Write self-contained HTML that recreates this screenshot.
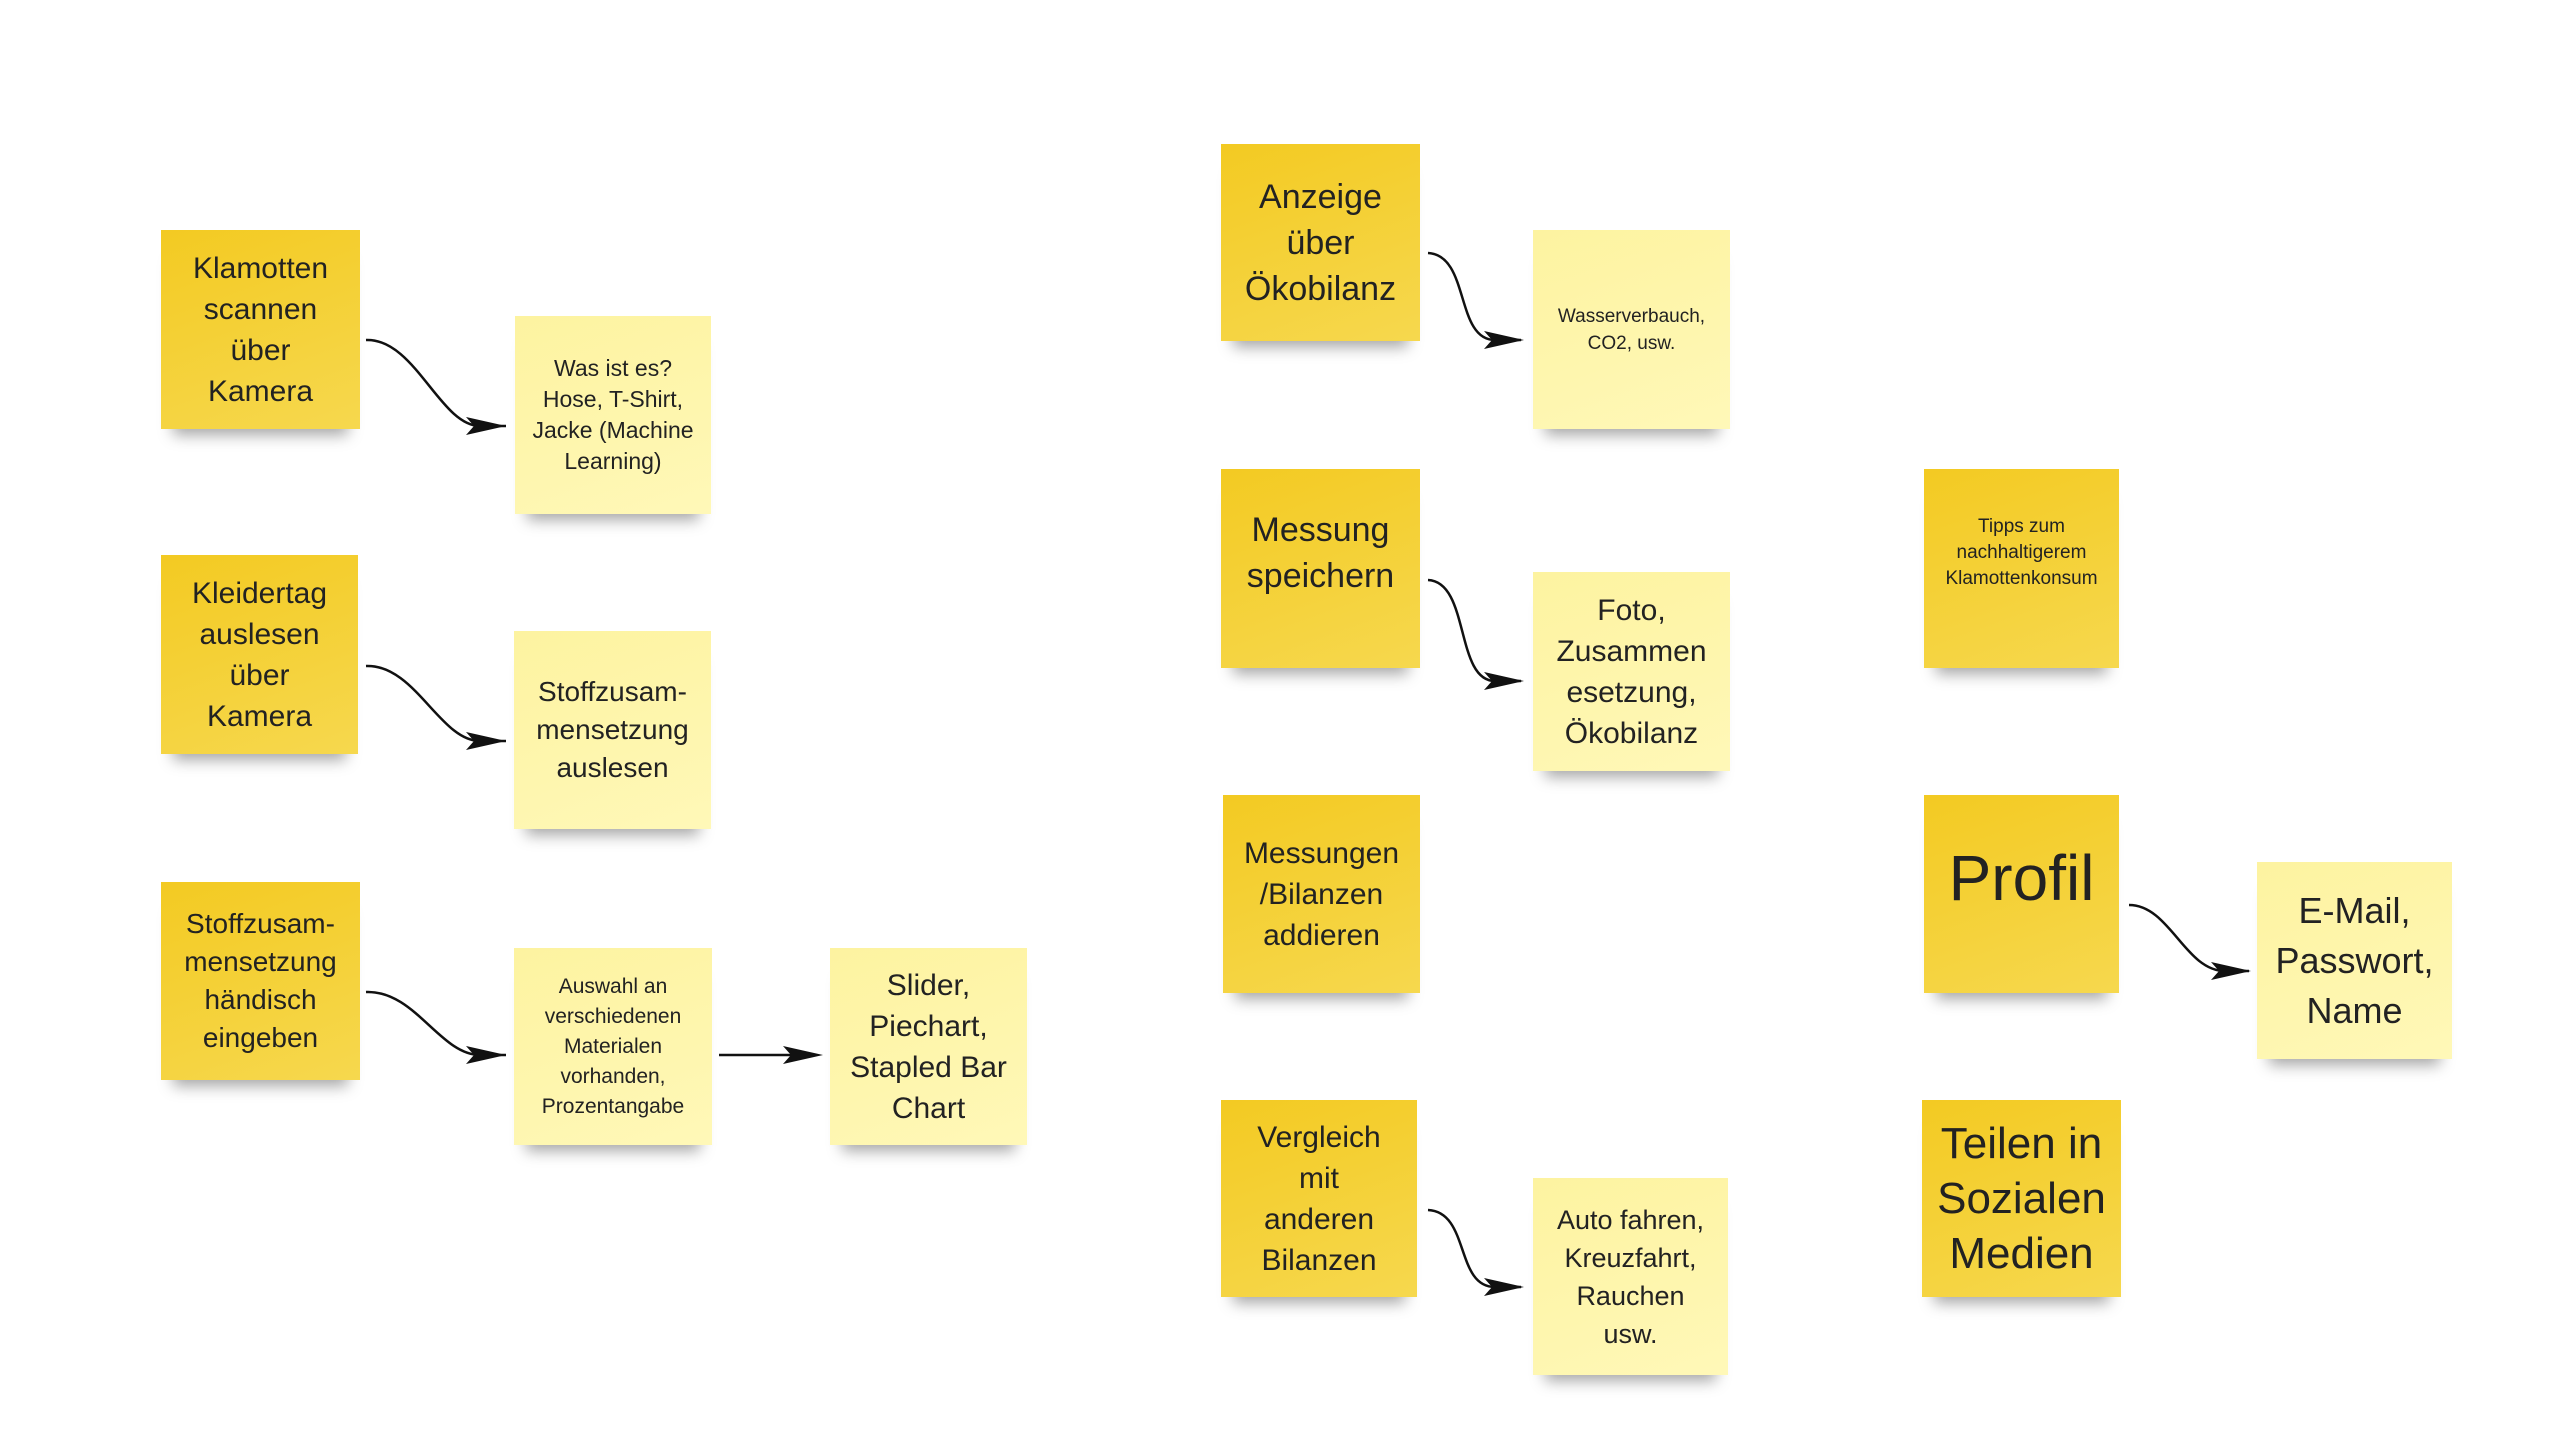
<!DOCTYPE html>
<html><head><meta charset="utf-8"><style>
body{margin:0;width:2560px;height:1440px;background:#fff;position:relative;overflow:hidden;font-family:"Liberation Sans",sans-serif;color:#222}
.n{position:absolute;display:flex;align-items:center;justify-content:center;text-align:center;box-sizing:border-box;padding:8px;box-shadow:0 18px 14px -12px rgba(0,0,0,0.35)}
.d{background:linear-gradient(160deg,#f3ca22,#f6d84e)}
.l{background:linear-gradient(160deg,#fdf3a0,#fff8b8)}
svg{position:absolute;left:0;top:0}
</style></head><body>
<div class="n d" style="left:161px;top:230px;width:199px;height:199px;font-size:30px;line-height:41px">Klamotten<br>scannen<br>über<br>Kamera</div>
<div class="n l" style="left:515px;top:316px;width:196px;height:198px;font-size:23px;line-height:31px">Was ist es?<br>Hose, T-Shirt,<br>Jacke (Machine<br>Learning)</div>
<div class="n d" style="left:161px;top:555px;width:197px;height:199px;font-size:30px;line-height:41px">Kleidertag<br>auslesen<br>über<br>Kamera</div>
<div class="n l" style="left:514px;top:631px;width:197px;height:198px;font-size:28px;line-height:38px">Stoffzusam-<br>mensetzung<br>auslesen</div>
<div class="n d" style="left:161px;top:882px;width:199px;height:198px;font-size:28px;line-height:38px">Stoffzusam-<br>mensetzung<br>händisch<br>eingeben</div>
<div class="n l" style="left:514px;top:948px;width:198px;height:197px;font-size:21px;line-height:30px">Auswahl an<br>verschiedenen<br>Materialen<br>vorhanden,<br>Prozentangabe</div>
<div class="n l" style="left:830px;top:948px;width:197px;height:197px;font-size:30px;line-height:41px">Slider,<br>Piechart,<br>Stapled Bar<br>Chart</div>
<div class="n d" style="left:1221px;top:144px;width:199px;height:197px;font-size:34px;line-height:46px">Anzeige<br>über<br>Ökobilanz</div>
<div class="n l" style="left:1533px;top:230px;width:197px;height:199px;font-size:19px;line-height:27px">Wasserverbauch,<br>CO2, usw.</div>
<div class="n d" style="left:1221px;top:469px;width:199px;height:199px;font-size:34px;line-height:46px;padding-bottom:40px">Messung<br>speichern</div>
<div class="n l" style="left:1533px;top:572px;width:197px;height:199px;font-size:30px;line-height:41px">Foto,<br>Zusammen<br>esetzung,<br>Ökobilanz</div>
<div class="n d" style="left:1223px;top:795px;width:197px;height:198px;font-size:30px;line-height:41px">Messungen<br>/Bilanzen<br>addieren</div>
<div class="n d" style="left:1221px;top:1100px;width:196px;height:197px;font-size:30px;line-height:41px">Vergleich<br>mit<br>anderen<br>Bilanzen</div>
<div class="n l" style="left:1533px;top:1178px;width:195px;height:197px;font-size:27px;line-height:38px">Auto fahren,<br>Kreuzfahrt,<br>Rauchen<br>usw.</div>
<div class="n d" style="left:1924px;top:469px;width:195px;height:199px;font-size:19px;line-height:26px;padding-bottom:40px">Tipps zum<br>nachhaltigerem<br>Klamottenkonsum</div>
<div class="n d" style="left:1924px;top:795px;width:195px;height:198px;font-size:64px;line-height:70px;padding-bottom:40px">Profil</div>
<div class="n d" style="left:1922px;top:1100px;width:199px;height:197px;font-size:44px;line-height:55px">Teilen in<br>Sozialen<br>Medien</div>
<div class="n l" style="left:2257px;top:862px;width:195px;height:197px;font-size:36px;line-height:50px">E-Mail,<br>Passwort,<br>Name</div>
<svg width="2560" height="1440" viewBox="0 0 2560 1440">
<g fill="none" stroke="#111" stroke-width="2.5">
<path d="M366,340 C415,338 440,426 480,426 L506,426"/>
<path d="M366,666 C415,664 440,741 480,741 L506,741"/>
<path d="M366,992 C415,990 440,1055 480,1055 L506,1055"/>
<path d="M719,1055 L800,1055"/>
<path d="M1428,253 C1470,255 1455,340 1495,340 L1521,340"/>
<path d="M1428,580 C1470,582 1455,681 1495,681 L1521,681"/>
<path d="M1428,1210 C1470,1212 1455,1287 1495,1287 L1521,1287"/>
<path d="M2129,905 C2170,905 2185,971 2225,971 L2249,971"/>
</g>
<g fill="#111">
<path d="M506,426 l-40,-9 l8,9 l-8,9z"/>
<path d="M506,741 l-40,-9 l8,9 l-8,9z"/>
<path d="M506,1055 l-40,-9 l8,9 l-8,9z"/>
<path d="M823,1055 l-40,-9 l8,9 l-8,9z"/>
<path d="M1524,340 l-40,-9 l8,9 l-8,9z"/>
<path d="M1524,681 l-40,-9 l8,9 l-8,9z"/>
<path d="M1524,1287 l-40,-9 l8,9 l-8,9z"/>
<path d="M2251,971 l-40,-9 l8,9 l-8,9z"/>
</g>
</svg>
</body></html>
